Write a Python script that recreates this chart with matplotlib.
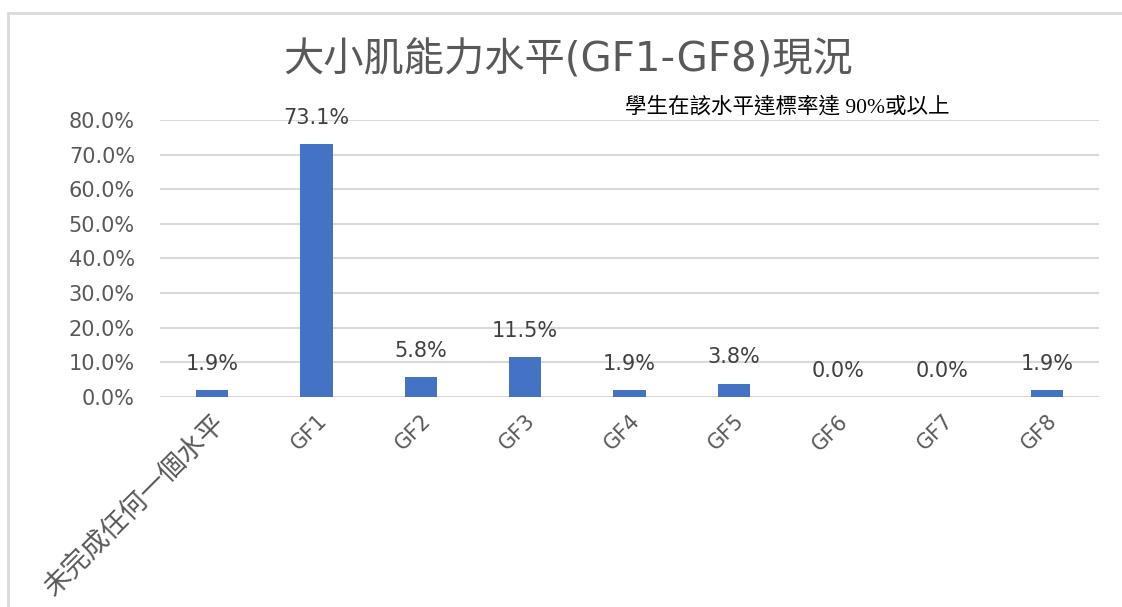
import matplotlib
matplotlib.use("Agg")
import matplotlib.pyplot as plt
from matplotlib.patches import Rectangle

plt.rcParams['font.family'] = ['DejaVu Sans', 'Noto Sans CJK TC']

# data
categories = ["未完成任何一個水平", "GF1", "GF2", "GF3", "GF4", "GF5", "GF6", "GF7", "GF8"]
values = [0.019, 0.731, 0.058, 0.115, 0.019, 0.038, 0.0, 0.0, 0.019]
yticks = [0.0, 0.1, 0.2, 0.3, 0.4, 0.5, 0.6, 0.7, 0.8]
title = "大小肌能力水平(GF1-GF8)現況"
note = "學生在該水平達標率達 90%或以上"

fig = plt.figure(figsize=(11.22, 6.07), dpi=100)
ax = fig.add_axes([0.1426, 0.346, 0.9795 - 0.1426, 0.8023 - 0.346])

x = list(range(len(categories)))
ax.bar(x, values, width=0.31, color="#4472C4", zorder=3)

for xi, v in zip(x, values):
    ax.annotate(f"{v * 100:.1f}%", (xi, v), xytext=(0, 19), textcoords="offset points",
                ha="center", va="center", fontsize=15, color="#404040",
                clip_on=False, zorder=4)

ax.set_xlim(-0.5, len(categories) - 0.5)
ax.set_ylim(0, 0.8)
ax.set_yticks(yticks)
ax.set_yticklabels([f"{t * 100:.1f}%" for t in yticks], fontsize=15, color="#595959")
ax.set_xticks(x)
ax.set_xticklabels(categories, rotation=45, ha="right", va="top", rotation_mode="anchor",
                   fontsize=15, color="#595959")
ax.get_xticklabels()[0].set_fontsize(19.5)
ax.tick_params(axis="both", length=0)
ax.tick_params(axis="y", pad=18)
ax.tick_params(axis="x", pad=10)
ax.grid(axis="y", color="#D9D9D9", linewidth=1.5, zorder=0)
for s in ax.spines.values():
    s.set_visible(False)

fig.text(0.506, 0.90, title, ha="center", va="center", fontsize=29, color="#595959")
fig.text(0.702, 0.823, note, ha="center", va="center", fontsize=15.5, color="black",
         family=["Liberation Serif", "Noto Sans CJK TC"])

# light border of the chart area (left and top edges visible)
fig.add_artist(Rectangle((8 / 1122, -0.1), 1.2, 1.1 - 13 / 607, transform=fig.transFigure,
                         fill=False, edgecolor="#D9D9D9", linewidth=2))

fig.savefig("out.png", dpi=100)
